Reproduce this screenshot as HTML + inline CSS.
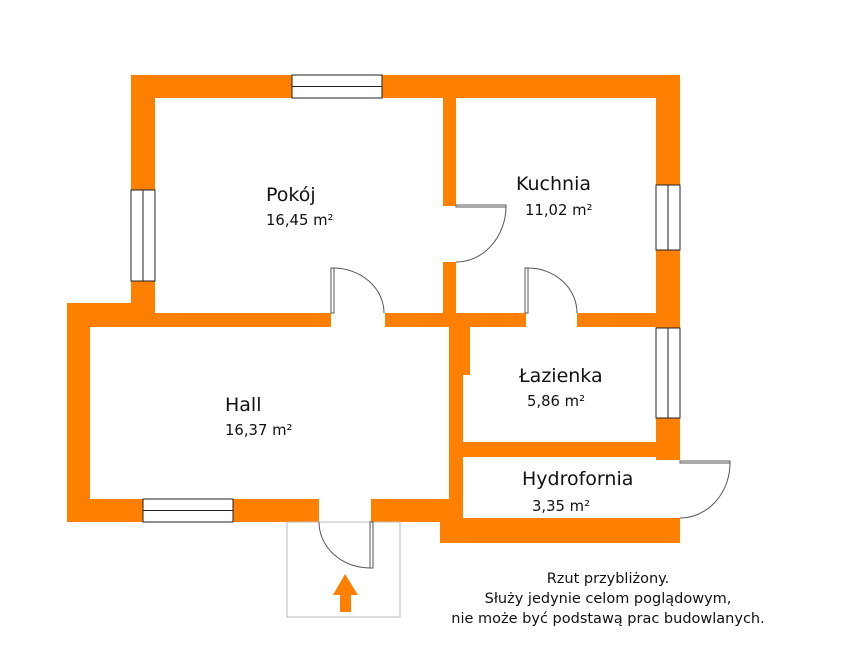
<!DOCTYPE html>
<html><head><style>body{margin:0;background:#fff}svg{display:block}</style></head><body>
<svg width="852" height="669" viewBox="0 0 852 669" xmlns="http://www.w3.org/2000/svg" font-family="'DejaVu Sans', 'Liberation Sans', sans-serif">
<g fill="#ff8000">
<rect x="131" y="75" width="549" height="23"/>
<rect x="131" y="75" width="24" height="252"/>
<rect x="656" y="75" width="24" height="385"/>
<rect x="443" y="98" width="13" height="108"/>
<rect x="443" y="262" width="13" height="51"/>
<rect x="67" y="303" width="88" height="24"/>
<rect x="67" y="313" width="264" height="14"/>
<rect x="385" y="313" width="78" height="14"/>
<rect x="456" y="313" width="70" height="14"/>
<rect x="577" y="313" width="103" height="14"/>
<rect x="67" y="313" width="23" height="209"/>
<rect x="449" y="313" width="14" height="209"/>
<rect x="463" y="327" width="7" height="48"/>
<rect x="67" y="499" width="252" height="23"/>
<rect x="371" y="499" width="92" height="23"/>
<rect x="463" y="442" width="217" height="15"/>
<rect x="440" y="518" width="240" height="25"/>
<path d="M333 595 L345 574 L358 595 L351 595 L351 612 L340 612 L340 595 Z"/>
</g>
<g fill="#fff" stroke="#222" stroke-width="1">
<rect x="292" y="75" width="90" height="23"/><line x1="292" y1="86.5" x2="382" y2="86.5"/>
<rect x="131" y="190" width="24" height="91"/><line x1="143" y1="190" x2="143" y2="281"/>
<rect x="656" y="185" width="24" height="65"/><line x1="668" y1="185" x2="668" y2="250"/>
<rect x="656" y="328" width="24" height="90"/><line x1="668" y1="328" x2="668" y2="418"/>
<rect x="143" y="499" width="90" height="23"/><line x1="143" y1="510.5" x2="233" y2="510.5"/>
</g>
<g fill="none" stroke="#555" stroke-width="1">
<rect x="287" y="522" width="113" height="95" stroke="#bbb"/>
<rect x="331" y="268" width="3" height="45" fill="#fff"/><path d="M334 268 A51 45 0 0 1 384 313"/>
<rect x="456" y="205" width="50" height="2" fill="#fff"/><path d="M506 207 A50 56 0 0 1 456 262"/>
<rect x="525" y="268" width="3" height="45" fill="#fff"/><path d="M528 268 A49 45 0 0 1 577 313"/>
<rect x="680" y="461" width="50" height="2" fill="#fff"/><path d="M730 463 A50 55 0 0 1 680 518"/>
<rect x="370" y="522" width="3" height="46" fill="#fff"/><path d="M319 522 A51 46 0 0 0 370 568"/>
</g>
<g fill="#111">
<text x="266" y="201" font-size="19">Pokój</text>
<text x="266" y="225" font-size="14.8">16,45 m²</text>
<text x="516" y="190" font-size="19">Kuchnia</text>
<text x="525" y="215" font-size="14.8">11,02 m²</text>
<text x="519" y="382" font-size="19">Łazienka</text>
<text x="527" y="406" font-size="14.8">5,86 m²</text>
<text x="225" y="411" font-size="19">Hall</text>
<text x="225" y="435" font-size="14.8">16,37 m²</text>
<text x="522" y="485" font-size="19">Hydrofornia</text>
<text x="532" y="511" font-size="14.8">3,35 m²</text>
<g font-size="14.5" text-anchor="middle">
<text x="608" y="583">Rzut przybliżony.</text>
<text x="608" y="603">Służy jedynie celom poglądowym,</text>
<text x="608" y="623">nie może być podstawą prac budowlanych.</text>
</g>
</g>
</svg>
</body></html>
